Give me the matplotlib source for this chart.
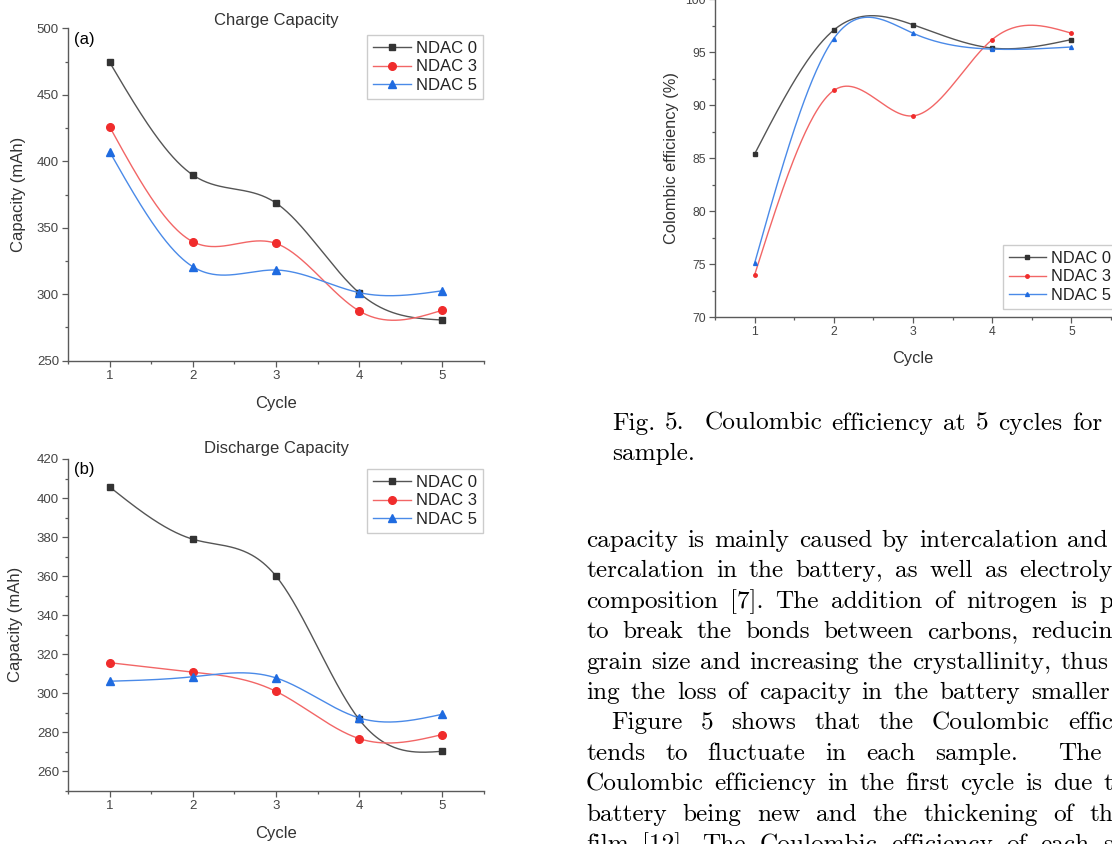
import numpy as np
import matplotlib
matplotlib.use("Agg")
import matplotlib.pyplot as plt
from matplotlib.lines import Line2D
from matplotlib.ticker import MultipleLocator

W, H = 1112, 844

cycles = [1, 2, 3, 4, 5]
names = ["NDAC 0", "NDAC 3", "NDAC 5"]

# (a) charge capacity, mAh
charge_ndac0 = [474.5, 389.7, 368.6, 301.0, 280.6]
charge_ndac3 = [426.0, 339.5, 338.2, 287.4, 288.0]
charge_ndac5 = [407.2, 320.7, 318.2, 301.2, 302.6]

# (b) discharge capacity, mAh
discharge_ndac0 = [405.7, 378.9, 360.0, 286.5, 270.2]
discharge_ndac3 = [315.6, 310.8, 300.9, 276.7, 278.8]
discharge_ndac5 = [306.1, 308.4, 307.8, 287.3, 289.2]

# Fig. 5 coulombic efficiency, %
ce_ndac0 = [85.4, 97.1, 97.6, 95.4, 96.2]
ce_ndac3 = [74.0, 91.4, 89.0, 96.2, 96.8]
ce_ndac5 = [75.1, 96.3, 96.8, 95.3, 95.5]

caption = [
    "Fig. 5.  Coulombic efficiency at 5 cycles for",
    "sample.",
]
body = [
    "capacity is mainly caused by intercalation and",
    "tercalation in the battery, as well as electroly",
    "composition [7]. The addition of nitrogen is p",
    "to break the bonds between carbons, reducin",
    "grain size and increasing the crystallinity, thus",
    "ing the loss of capacity in the battery smaller",
    "Figure 5 shows that the Coulombic effic",
    "tends to fluctuate in each sample.  The",
    "Coulombic efficiency in the first cycle is due t",
    "battery being new and the thickening of th",
    "film [12]. The Coulombic efficiency of each s",
]

marker_col = ["#333333", "#f02c2c", "#1f6be0"]
line_col = ["#555555", "#f26666", "#4a8ae8"]
markers = ["s", "o", "^"]

plt.rcParams["font.family"] = ["Liberation Sans", "DejaVu Sans"]


def smooth(x, y, n=60):
    # natural cubic spline through the points (line style only)
    x = np.asarray(x, float)
    y = np.asarray(y, float)
    k = len(x)
    h = np.diff(x)
    A = np.zeros((k, k))
    b = np.zeros(k)
    A[0, 0] = A[-1, -1] = 1
    for i in range(1, k - 1):
        A[i, i - 1] = h[i - 1]
        A[i, i] = 2 * (h[i - 1] + h[i])
        A[i, i + 1] = h[i]
        b[i] = 6 * ((y[i + 1] - y[i]) / h[i] - (y[i] - y[i - 1]) / h[i - 1])
    M = np.linalg.solve(A, b)
    xs, ys = [], []
    for i in range(k - 1):
        t = np.linspace(x[i], x[i + 1], n)
        a = x[i + 1] - t
        c = t - x[i]
        s = (M[i] * a**3 + M[i + 1] * c**3) / (6 * h[i]) \
            + (y[i] / h[i] - M[i] * h[i] / 6) * a \
            + (y[i + 1] / h[i] - M[i + 1] * h[i] / 6) * c
        xs.append(t)
        ys.append(s)
    return np.concatenate(xs), np.concatenate(ys)


def px_axes(fig, left, top, right, bottom):
    return fig.add_axes([left / W, 1 - bottom / H, (right - left) / W, (bottom - top) / H])


def panel(ax, series, ylim, ymaj, ymin, ylabel, ms, tick_fs, lab_fs, leg_anchor, leg_loc, ylab_x):
    handles = []
    for y, mc, lc, m, s, nm in zip(series, marker_col, line_col, markers, ms, names):
        xs, ss = smooth(cycles, y)
        ax.plot(xs, ss, color=lc, lw=1.0)
        ax.plot(cycles, y, ls="none", marker=m, color=mc, ms=s)
        handles.append(Line2D([], [], color=lc, lw=1.0, marker=m, mfc=mc, mec=mc, ms=s, label=nm))
    ax.set_xlim(0.5, 5.5)
    ax.set_ylim(*ylim)
    ax.xaxis.set_major_locator(MultipleLocator(1))
    ax.xaxis.set_minor_locator(MultipleLocator(0.5))
    ax.yaxis.set_major_locator(MultipleLocator(ymaj))
    ax.yaxis.set_minor_locator(MultipleLocator(ymin))
    for sp in ["top", "right"]:
        ax.spines[sp].set_visible(False)
    for sp in ["left", "bottom"]:
        ax.spines[sp].set_color("#5a5a5a")
        ax.spines[sp].set_linewidth(1.0)
    ax.tick_params(which="major", direction="out", length=4.5, width=0.9, color="#5a5a5a",
                   labelcolor="#444444", labelsize=tick_fs, pad=2)
    ax.tick_params(which="minor", direction="out", length=2.2, width=0.9, color="#5a5a5a")
    ax.set_xlabel("Cycle", fontsize=lab_fs, color="#333333", va="top")
    ax.set_ylabel(ylabel, fontsize=lab_fs, color="#333333")
    ax.xaxis.set_label_coords(0.5, -0.105)
    ax.yaxis.set_label_coords(ylab_x, 0.5)
    leg = ax.legend(handles=handles, loc=leg_loc, bbox_to_anchor=leg_anchor, frameon=True,
                    fancybox=False, edgecolor="#cccccc", fontsize=lab_fs, handlelength=2.3,
                    labelspacing=0.22, borderpad=0.35, handletextpad=0.3, borderaxespad=0,
                    framealpha=1)
    leg.get_frame().set_linewidth(1.0)
    for t in leg.get_texts():
        t.set_color("#222222")


fig = plt.figure(figsize=(W / 100, H / 100), dpi=100)

ax_a = px_axes(fig, 68, 28.3, 484, 360.7)
panel(ax_a, [charge_ndac0, charge_ndac3, charge_ndac5], (250, 500), 50, 25,
      "Capacity (mAh)", [5, 5.5, 6], 9.5, 12, (0.9976, 0.98), "upper right", -0.101)
ax_a.set_title("Charge Capacity", fontsize=12, color="#333333", pad=2)
ax_a.text(0.015, 0.99, "(a)", transform=ax_a.transAxes, fontsize=12, va="top", ha="left")

ax_b = px_axes(fig, 68, 459, 484, 790.7)
panel(ax_b, [discharge_ndac0, discharge_ndac3, discharge_ndac5], (250, 420), 20, 10,
      "Capacity (mAh)", [5, 5.5, 6], 9.5, 12, (0.9976, 0.97), "upper right", -0.108)
ax_b.set_title("Discharge Capacity", fontsize=12, color="#333333", pad=4.5)
ax_b.text(0.015, 0.99, "(b)", transform=ax_b.transAxes, fontsize=12, va="top", ha="left")

ax_c = px_axes(fig, 715, -0.7, 1111, 317.3)
panel(ax_c, [ce_ndac0, ce_ndac3, ce_ndac5], (70, 100), 5, 2.5,
      "Colombic efficiency (%)", [2.5, 2.5, 2.8], 8.8, 11.8, (0.727, 0.227), "upper left", -0.091)

# page text set in Computer Modern, justified word by word
fig.canvas.draw()
renderer = fig.canvas.get_renderer()
FS = 18.2


def put_line(line, x0, x1, base):
    words, gaps = [], []
    extra = 0
    for tok in line.split(" "):
        if tok == "":
            extra += 1
            continue
        if words:
            gaps.append(1 + extra)
        words.append(tok)
        extra = 0
    texts = [fig.text(0, 1 - base / H, w, fontsize=FS, family="cmr10", color="black",
                      ha="left", va="baseline") for w in words]
    widths = [t.get_window_extent(renderer=renderer).width for t in texts]
    nat = FS * 100 / 72 * 0.333
    if x1 is None or not gaps:
        unit = nat
    else:
        unit = max((x1 - x0 - sum(widths)) / sum(gaps), nat * 0.6)
    x = x0
    for i, t in enumerate(texts):
        t.set_x(x / W)
        x += widths[i]
        if i < len(gaps):
            x += unit * gaps[i]


cap_base = [430, 460]
cap_right = [1102, None]
for line, b, r in zip(caption, cap_base, cap_right):
    put_line(line, 612, r, b)

body_left = [586, 586, 586, 586, 586, 586, 611, 586, 586, 586, 586]
body_right = [1108, 1113, 1113, 1113, 1108, 1110, 1113, 1102, 1113, 1113, 1113]
for i, line in enumerate(body):
    put_line(line, body_left[i], body_right[i], 547 + 30.4 * i)

fig.savefig("out.png", dpi=100)
